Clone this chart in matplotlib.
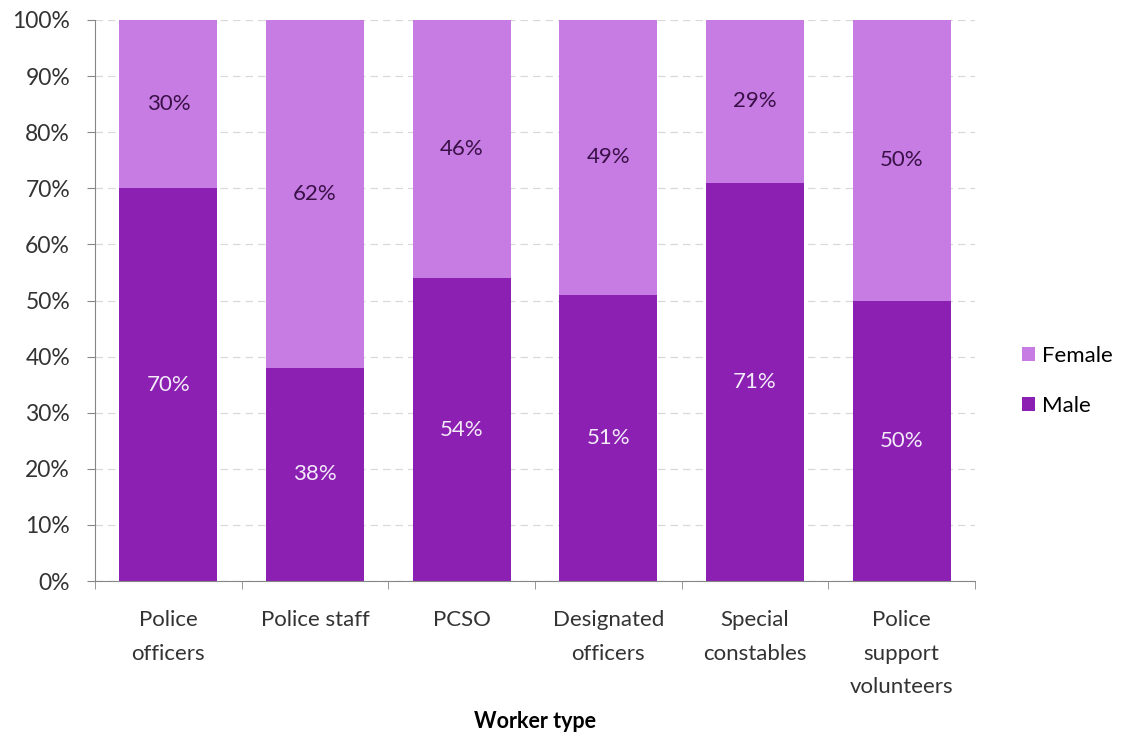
import numpy as np
import matplotlib.pyplot as plt

plt.rcParams['font.family'] = ['Lato', 'DejaVu Sans']

# worker types and gender split (percent)
categories = ["Police\nofficers", "Police staff", "PCSO", "Designated\nofficers",
              "Special\nconstables", "Police\nsupport\nvolunteers"]
male = [70, 38, 54, 51, 71, 50]
female = [30, 62, 46, 49, 29, 50]

male_col = "#8b20b3"
female_col = "#c67ce2"

fig = plt.figure(figsize=(11.22, 7.35), dpi=100)
ax = fig.add_axes([0.0847, 0.2095, 0.7843, 0.7633])

x = np.arange(len(categories))
b_male = ax.bar(x, male, width=0.667, color=male_col, zorder=2, label="Male")
b_female = ax.bar(x, female, width=0.667, bottom=male, color=female_col, zorder=2, label="Female")

# percentage labels in the middle of each segment
for i in range(len(categories)):
    ax.text(x[i], male[i] / 2, f"{male[i]}%", ha="center", va="center",
            color="#f4eaf8", fontsize=16)
    ax.text(x[i], male[i] + female[i] / 2, f"{female[i]}%", ha="center", va="center",
            color="#3a1048", fontsize=16)

ax.set_xlim(-0.5, len(categories) - 0.5)
ax.set_ylim(0, 100)
ax.set_yticks(np.arange(0, 101, 10))
ax.set_yticklabels([f"{v}%" for v in range(0, 101, 10)])
ax.yaxis.grid(True, linestyle=(0, (6, 4)), color="#d9d9d9", linewidth=0.9, zorder=0)

ax.set_xticks(x)
ax.set_xticklabels(categories, linespacing=1.85)
ax.set_xticks(np.arange(-0.5, len(categories), 1), minor=True)
ax.tick_params(axis="x", which="major", length=0, pad=21, labelsize=16, colors="#333333")
ax.tick_params(axis="x", which="minor", length=6, color="#868686", direction="out")
ax.tick_params(axis="y", length=6, color="#868686", labelsize=16.5, labelcolor="#333333", pad=12)

for s in ["top", "right"]:
    ax.spines[s].set_visible(False)
for s in ["left", "bottom"]:
    ax.spines[s].set_color("#868686")

ax.set_xlabel("Worker type", fontsize=15.5, fontweight="bold", labelpad=10)

fig.legend(handles=[b_female, b_male], labels=["Female", "Male"], loc="center left",
           bbox_to_anchor=(0.893, 0.482), frameon=False, fontsize=16,
           handlelength=0.6, handleheight=0.6, handletextpad=0.3, labelspacing=1.35)

fig.savefig("out.png", dpi=100)
